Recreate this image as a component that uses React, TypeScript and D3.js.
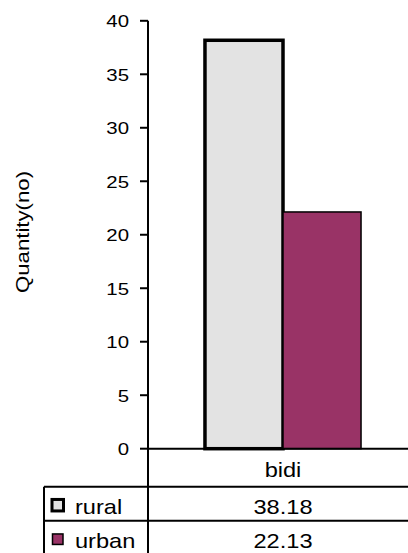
import React from "react";
import * as d3 from "d3";

const categories = ["bidi"];
const seriesNames = ["rural", "urban"];
const ruralValues = [38.18];
const urbanValues = [22.13];
const yTicks = [0, 5, 10, 15, 20, 25, 30, 35, 40];
const seriesColors = ["#e3e3e3", "#993366"];
const seriesStroke = [3.5, 1.5];

const W = 408;
const H = 553;
const FONT = "'Liberation Sans', Arial, sans-serif";

function SText(props: { x: number; y: number; size: number; sx?: number; anchor?: string; children: React.ReactNode; rotate?: number }) {
  const { x, y, size, sx = 1.2, anchor = "start", children, rotate = 0 } = props;
  return (
    <g transform={`translate(${x},${y}) rotate(${rotate}) scale(${sx},1)`}>
      <text x={0} y={0} fontSize={size} fontFamily={FONT} textAnchor={anchor} fill="#000">
        {children}
      </text>
    </g>
  );
}

export default function App() {
  const axisX = 148;
  const y = d3.scaleLinear().domain([0, 40]).range([448.7, 20.8]);
  const x0 = d3.scaleBand<string>().domain(categories).range([148, 418]).paddingOuter(0.365).paddingInner(0);
  const x1 = d3.scaleBand<string>().domain(seriesNames).range([0, x0.bandwidth()]);
  const seriesData = [ruralValues, urbanValues];
  const row1 = 486.7;
  const row2 = 520.7;
  const tableLeft = 44;
  const y0 = y(0);
  const cx = (x0("bidi") as number) + x0.bandwidth() / 2;

  return (
    <svg width={W} height={H} style={{ position: "absolute", left: 0, top: 0, background: "#fff" }}>
      <rect x={0} y={0} width={W} height={H} fill="#fff" />
      {categories.map((c, ci) =>
        seriesNames.map((s, si) => {
          const v = seriesData[si][ci];
          const bx = (x0(c) as number) + (x1(s) as number);
          return (
            <rect
              key={c + s}
              x={bx}
              y={y(v)}
              width={x1.bandwidth()}
              height={y0 - y(v)}
              fill={seriesColors[si]}
              stroke="#000"
              strokeWidth={seriesStroke[si]}
            />
          );
        })
      )}
      <line x1={axisX} x2={axisX} y1={y(40)} y2={H} stroke="#000" strokeWidth={2} />
      {yTicks.map((t) => (
        <g key={t}>
          <line x1={axisX - 8} x2={axisX} y1={y(t)} y2={y(t)} stroke="#000" strokeWidth={2} />
          <SText x={129} y={y(t) + 6.3} size={17} anchor="end">
            {t}
          </SText>
        </g>
      ))}
      <line x1={axisX} x2={W} y1={y0} y2={y0} stroke="#000" strokeWidth={2} />
      <SText x={cx} y={477} size={20} sx={1.18} anchor="middle">
        {categories[0]}
      </SText>
      <line x1={tableLeft} x2={W} y1={row1} y2={row1} stroke="#000" strokeWidth={2} />
      <line x1={tableLeft} x2={W} y1={row2} y2={row2} stroke="#000" strokeWidth={2} />
      <line x1={tableLeft} x2={tableLeft} y1={row1} y2={H} stroke="#000" strokeWidth={2} />
      {seriesNames.map((s, si) => {
        const rowTop = si === 0 ? row1 : row2;
        const boxSize = si === 0 ? 11.5 : 10.5;
        const bx = si === 0 ? 52 : 52.5;
        const by = rowTop + 18.5 - boxSize / 2;
        return (
          <g key={s}>
            <rect x={bx} y={by} width={boxSize} height={boxSize} fill={seriesColors[si]} stroke="#000" strokeWidth={si === 0 ? 3 : 1.5} />
            <SText x={75} y={rowTop + 27.5} size={20} sx={1.18}>
              {s}
            </SText>
            <SText x={cx} y={rowTop + 27.5} size={20} sx={1.18} anchor="middle">
              {seriesData[si][0].toFixed(2)}
            </SText>
          </g>
        );
      })}
      <SText x={29} y={232} size={18.5} anchor="middle" rotate={-90}>
        Quantity(no)
      </SText>
    </svg>
  );
}
